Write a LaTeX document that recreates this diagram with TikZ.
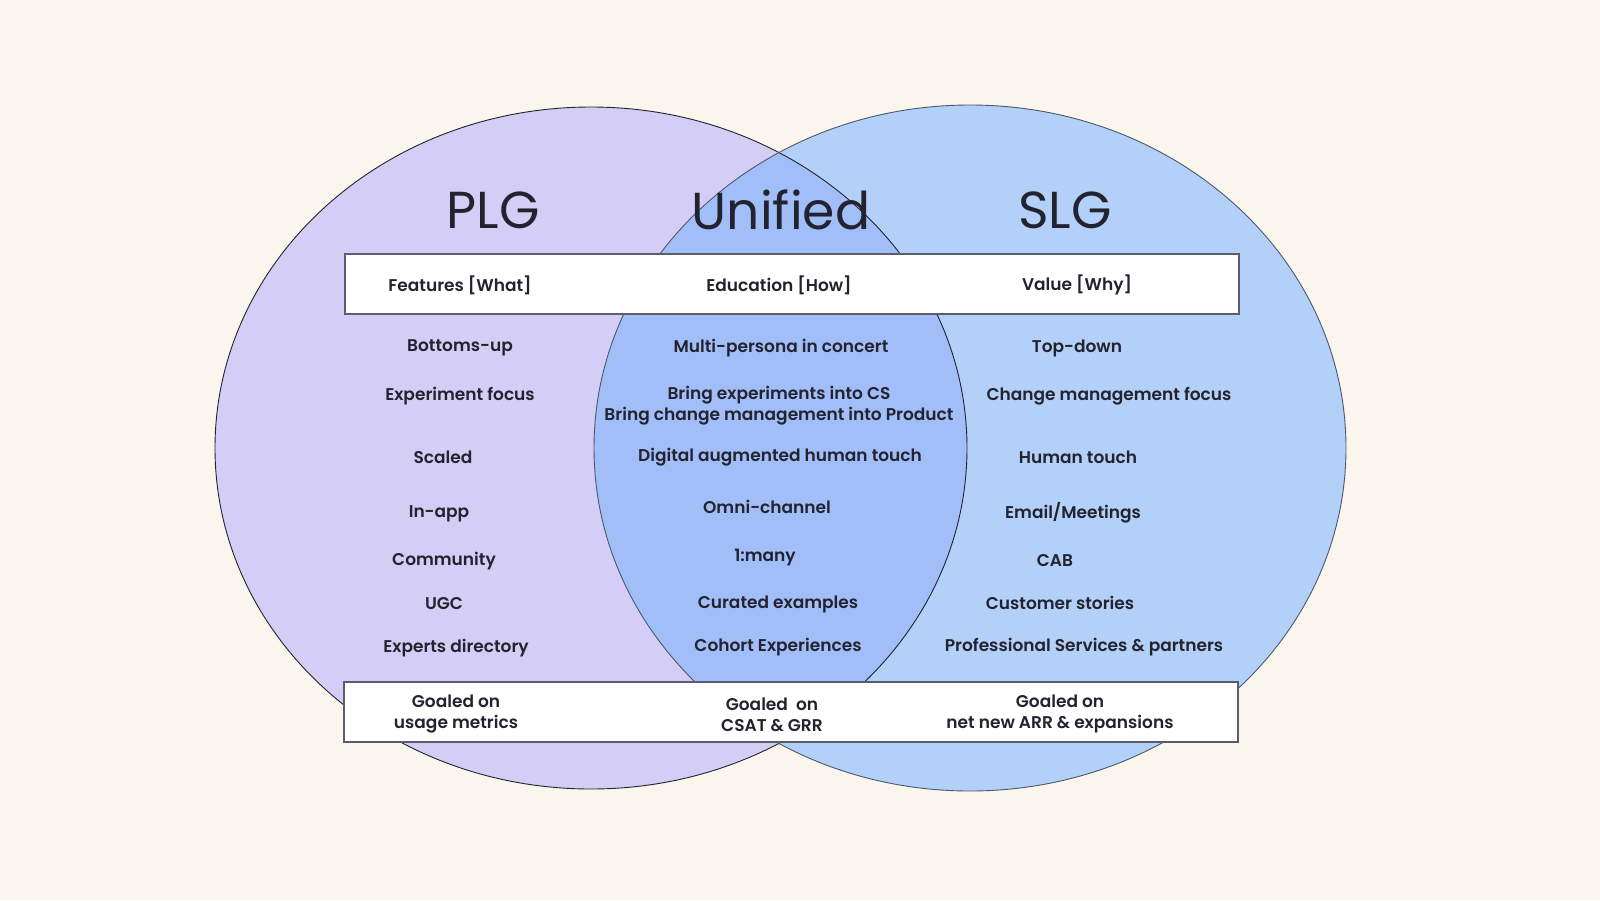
\documentclass[tikz,border=0pt]{standalone}
\usepackage{fontspec}
\setmainfont{Poppins}[BoldFont={Poppins SemiBold}]
\usetikzlibrary{positioning}
\definecolor{bgc}{HTML}{FAF6EE}
\definecolor{plgc}{HTML}{D4CDF6}
\definecolor{slgc}{HTML}{B3D0F8}
\definecolor{midc}{HTML}{A2BEF8}
\definecolor{txtc}{HTML}{23232F}
\definecolor{boxline}{HTML}{5C5C6C}
\tikzset{
  item/.style={font=\fontsize{17}{21}\selectfont\bfseries, text=txtc, align=center, inner sep=0pt},
  title/.style={font=\fontsize{52}{56}\selectfont, text=txtc, inner sep=0pt},
  band/.style={draw=boxline, line width=1.3pt, fill=white},
  ring/.style={draw=txtc, line width=0.9pt}
}
\begin{document}
\begin{tikzpicture}[x=1pt,y=-1pt]
\useasboundingbox (0,0) rectangle (1600,900);
\fill[bgc] (0,0) rectangle (1600,900);
% circles
\fill[plgc] (591,448) ellipse [x radius=376, y radius=341];
\fill[slgc] (970,448) ellipse [x radius=376, y radius=343];
\begin{scope}
  \clip (591,448) ellipse [x radius=376, y radius=341];
  \fill[midc] (970,448) ellipse [x radius=376, y radius=343];
\end{scope}
\draw[ring] (591,448) ellipse [x radius=376, y radius=341];
\draw[ring, draw=txtc!70!slgc] (970,448) ellipse [x radius=376, y radius=343];
% titles
\node[title] (plg) at (493,210) {PLG};
\node[title] (uni) at (781,210) {Unified};
\node[title] (slg) at (1065,210) {SLG};
% header band
\node[band, minimum width=894pt, minimum height=60pt, inner sep=0pt] (hdr) at (792,284) {};
\node[item] (h1) at (460,285) {Features [What]};
\node[item] (h2) at (779,285) {Education [How]};
\node[item] (h3) at (1077,285) {Value [Why]};
% left column
\node[item] (l1) at (460,348) {Bottoms-up};
\node[item] (l2) at (460,396) {Experiment focus};
\node[item] (l3) at (443,457) {Scaled};
\node[item] (l4) at (439,514) {In-app};
\node[item] (l5) at (444,561) {Community};
\node[item] (l6) at (444,604) {UGC};
\node[item] (l7) at (456,648) {Experts directory};
% middle column
\node[item] (m1) at (781,348) {Multi-persona in concert};
\node[item] (m2) at (779,406) {Bring experiments into CS\\Bring change management into Product};
\node[item] (m3) at (780,457) {Digital augmented human touch};
\node[item] (m4) at (767,507) {Omni-channel};
\node[item] (m5) at (765,558) {1:many};
\node[item] (m6) at (778,604) {Curated examples};
\node[item] (m7) at (778,647) {Cohort Experiences};
% right column
\node[item] (r1) at (1077,348) {Top-down};
\node[item] (r2) at (1109,396) {Change management focus};
\node[item] (r3) at (1078,457) {Human touch};
\node[item] (r4) at (1073,513) {Email/Meetings};
\node[item] (r5) at (1055,561) {CAB};
\node[item] (r6) at (1060,603) {Customer stories};
\node[item] (r7) at (1084,647) {Professional Services \& partners};
% footer band
\node[band, minimum width=894pt, minimum height=60pt, inner sep=0pt] (ftr) at (791,712) {};
\node[item] (f1) at (456,714) {Goaled on\\usage metrics};
\node[item] (f2) at (772,715) {Goaled\ \ on\\CSAT \& GRR};
\node[item] (f3) at (1060,714) {Goaled on\\net new ARR \& expansions};
\end{tikzpicture}
\end{document}
